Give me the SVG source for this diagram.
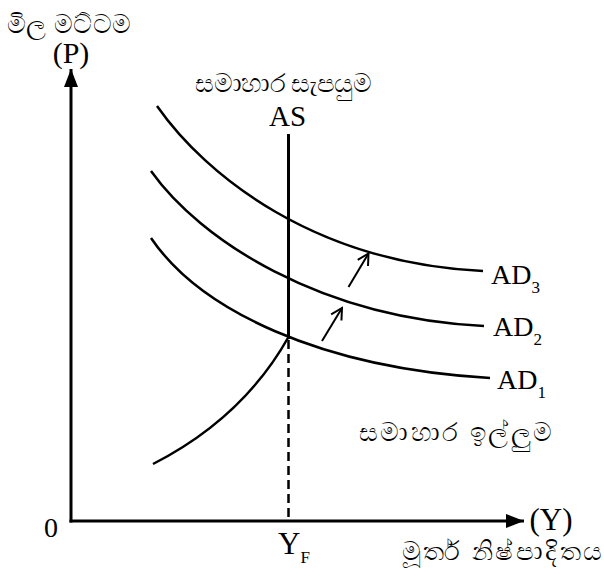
<svg xmlns="http://www.w3.org/2000/svg" width="604" height="577" viewBox="0 0 604 577">
  <style>
    .lbl { font-family: "Liberation Serif", "DejaVu Serif", serif; fill: #000; }
    .si { font-family: "Liberation Serif", "Noto Sans", serif; fill: #000; font-size: 26px; }
    .axis { stroke: #000; stroke-width: 3; fill: none; }
    .curve { stroke: #000; stroke-width: 2.5; fill: none; }
    .shift { stroke: #000; stroke-width: 2; fill: none; }
    .dash { stroke: #000; stroke-width: 2.5; fill: none; stroke-dasharray: 9 5; }
  </style>
  <defs>
    <marker id="fillhead" viewBox="0 0 18 14" refX="18" refY="7" markerWidth="18" markerHeight="14" markerUnits="userSpaceOnUse" orient="auto">
      <path d="M0,0 L18,7 L0,14 Z" fill="#000"/>
    </marker>
    <marker id="openhead" viewBox="0 0 14 14" refX="12" refY="7" markerWidth="14" markerHeight="14" markerUnits="userSpaceOnUse" orient="auto">
      <path d="M1,1 L12,7 L1,13" fill="none" stroke="#000" stroke-width="2"/>
    </marker>
  </defs>

  <rect width="604" height="577" fill="#fff"/>

  <g id="connectors">
    <line id="y-axis" class="axis" x1="71" y1="522.5" x2="71" y2="69" marker-end="url(#fillhead)"/>
    <line id="x-axis" class="axis" x1="69.5" y1="521" x2="524" y2="521" marker-end="url(#fillhead)"/>
    <line id="shift1" class="shift" x1="322" y1="341" x2="342" y2="308" marker-end="url(#openhead)"/>
    <line id="shift2" class="shift" x1="348.5" y1="287" x2="368.5" y2="253.5" marker-end="url(#openhead)"/>
    <line id="yf-dash" class="dash" x1="288.5" y1="340" x2="288.5" y2="521"/>
  </g>

  <g id="axis-labels">
    <text class="si" x="7" y="33" textLength="124">මිල මට්ටම</text>
    <text class="lbl" font-family="Liberation Serif" x="71" y="63" font-size="30" text-anchor="middle">(P)</text>
    <text class="lbl" font-family="Liberation Serif" x="51" y="537" font-size="28" text-anchor="middle">0</text>
    <text class="lbl" font-family="Liberation Serif" x="551" y="530" font-size="31" text-anchor="middle">(Y)</text>
    <text class="si" x="402" y="560" textLength="200">මූර්ත නිෂ්පාදිතය</text>
    <text class="lbl" font-family="Liberation Serif" x="278" y="554" font-size="31">Y<tspan font-size="17" dy="9">F</tspan></text>
  </g>

  <g id="AS">
    <path class="curve" d="M153,464 Q243,418 288.5,337"/>
    <line class="axis" x1="288.5" y1="134" x2="288.5" y2="339"/>
    <text class="lbl" font-family="Liberation Serif" x="269" y="126" font-size="29">AS</text>
    <text class="si" x="195" y="92" textLength="177">සමාහාර සැපයුම</text>
  </g>

  <g id="AD1">
    <path class="curve" d="M151,238 C200,310 320,368 490,378"/>
    <text class="lbl" font-family="Liberation Serif" x="497" y="389" font-size="28">AD<tspan font-size="17" dy="9">1</tspan></text>
  </g>

  <g id="AD2">
    <path class="curve" d="M151,171 C200,240 320,318 484,326"/>
    <text class="lbl" font-family="Liberation Serif" x="493" y="336" font-size="28">AD<tspan font-size="17" dy="9">2</tspan></text>
  </g>

  <g id="AD3">
    <path class="curve" d="M157,106 C206,176 315,263 483,271"/>
    <text class="lbl" font-family="Liberation Serif" x="491" y="284" font-size="28">AD<tspan font-size="17" dy="9">3</tspan></text>
  </g>

  <g id="AD-label">
    <text class="si" x="359" y="441" textLength="193">සමාහාර ඉල්ලුම</text>
  </g>
</svg>
